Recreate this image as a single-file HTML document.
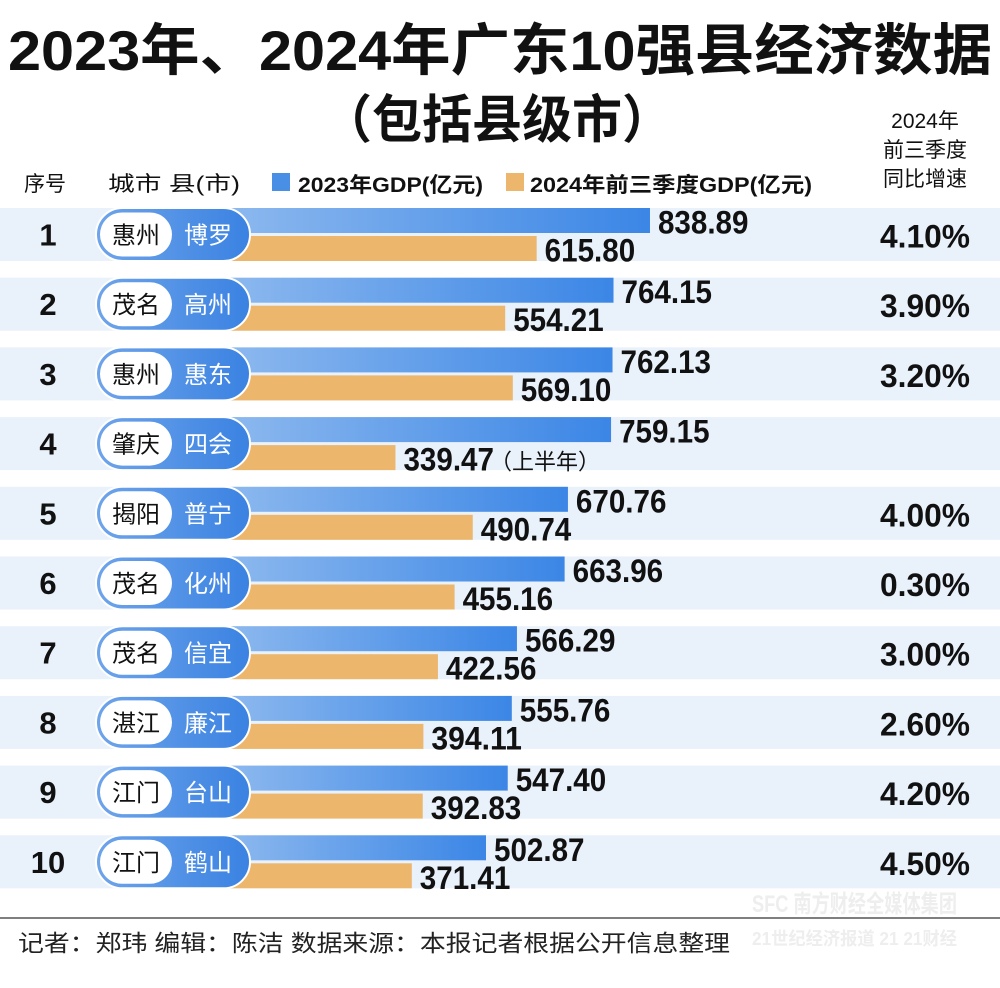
<!DOCTYPE html>
<html><head><meta charset="utf-8"><style>
html,body{margin:0;padding:0;background:#fff;}
svg{display:block;font-family:"Liberation Sans","Noto Sans CJK SC",sans-serif;}
</style></head><body>
<svg id="chart" width="1000" height="988" viewBox="0 0 1000 988">
<defs>
<linearGradient id="gb" x1="0" x2="1" y1="0" y2="0"><stop offset="0" stop-color="#8cb8ee"/><stop offset="1" stop-color="#3b86e6"/></linearGradient>
<linearGradient id="gp" x1="0" x2="1" y1="0" y2="0"><stop offset="0" stop-color="#6ea4ea"/><stop offset="1" stop-color="#3a82e2"/></linearGradient>
</defs>
<text x="8" y="70" font-size="56" font-weight="bold" fill="#111" textLength="984" lengthAdjust="spacingAndGlyphs">2023年、2024年广东10强县经济数据</text>
<text x="322" y="138" font-size="52" font-weight="bold" fill="#111" textLength="350" lengthAdjust="spacingAndGlyphs">（包括县级市）</text>
<g font-size="21" fill="#111" text-anchor="middle">
<text x="925" y="128">2024年</text><text x="925" y="157">前三季度</text><text x="925" y="186">同比增速</text></g>
<text x="45" y="191" font-size="21" text-anchor="middle" fill="#111">序号</text>
<text x="108" y="191" font-size="21" fill="#111" textLength="132" lengthAdjust="spacingAndGlyphs">城市 县(市)</text>
<rect x="272" y="173" width="18" height="18" fill="#4a8fe6"/>
<text x="298" y="192" font-size="21" font-weight="bold" fill="#111" textLength="185" lengthAdjust="spacingAndGlyphs">2023年GDP(亿元)</text>
<rect x="506" y="173" width="18" height="18" fill="#ecb66c"/>
<text x="530" y="192" font-size="21" font-weight="bold" fill="#111" textLength="282" lengthAdjust="spacingAndGlyphs">2024年前三季度GDP(亿元)</text>
<g id="rows"></g>
<line x1="0" y1="918" x2="1000" y2="918" stroke="#555" stroke-width="1.5"/>
<text x="18" y="951" font-size="23" fill="#222" textLength="712" lengthAdjust="spacingAndGlyphs">记者：郑玮  编辑：陈洁  数据来源：本报记者根据公开信息整理</text>
<text x="752" y="912" font-size="24" font-weight="bold" fill="#eeeeee" textLength="205" lengthAdjust="spacingAndGlyphs">SFC 南方财经全媒体集团</text>
<text x="752" y="945" font-size="18" font-weight="bold" fill="#eeeeee" textLength="205" lengthAdjust="spacingAndGlyphs">21世纪经济报道  21 21财经</text>
</svg>
<script>
const ranks=[1,2,3,4,5,6,7,8,9,10];
const cities=["惠州","茂名","惠州","肇庆","揭阳","茂名","茂名","湛江","江门","江门"];
const counties=["博罗","高州","惠东","四会","普宁","化州","信宜","廉江","台山","鹤山"];
const gdp2023=[838.89,764.15,762.13,759.15,670.76,663.96,566.29,555.76,547.40,502.87];
const gdp2024=[615.80,554.21,569.10,339.47,490.74,455.16,422.56,394.11,392.83,371.41];
const notes2024=["","","","（上半年）","","","","","",""];
const growth=["4.10%","3.90%","3.20%","","4.00%","0.30%","3.00%","2.60%","4.20%","4.50%"];
const NS="http://www.w3.org/2000/svg";
const xBlue=v=>240.6+v*0.488;
const xOrange=v=>222+v*0.511;
const rowY=i=>234.5+i*69.7;
const g=document.getElementById('rows');
function mk(tag,attrs,txt){const e=document.createElementNS(NS,tag);for(const k in attrs)e.setAttribute(k,attrs[k]);if(txt!==undefined)e.textContent=txt;g.appendChild(e);return e;}
function numLen(s){let w=0;for(const c of s){w+=(c==='.')?8:(c==='%')?24:16.5;}return w;}
ranks.forEach((r,i)=>{
  const cy=rowY(i);
  let e=mk('rect',{x:0,y:cy-26.5,width:1000,height:53,fill:'#e9f1fb'});
  
  
  e=mk('rect',{x:230,y:cy-26.5,width:xBlue(gdp2023[i])-230,height:25,fill:'url(#gb)'});
  
  
  e=mk('rect',{x:230,y:cy+1.5,width:xOrange(gdp2024[i])-230,height:25,fill:'#ecb66c'});
  
  
  e=mk('rect',{x:96,y:cy-26.5,width:154,height:53,rx:26.5,fill:'url(#gp)',stroke:'#fff','stroke-width':2});
  
  
  e=mk('rect',{x:100,y:cy-22,width:72,height:44,rx:22,fill:'#fff'});
  
  
  e=mk('text',{x:136,y:cy+9,'font-size':24,'text-anchor':'middle',fill:'#111'},cities[i]);
  
  
  e=mk('text',{x:208,y:cy+9,'font-size':24,'text-anchor':'middle',fill:'#fff'},counties[i]);
  
  
  e=mk('text',{x:48,y:cy+11,'font-size':31,'font-weight':'bold','text-anchor':'middle',fill:'#111'},String(r));
  
  
  const s1=gdp2023[i].toFixed(2), s2=gdp2024[i].toFixed(2);
  e=mk('text',{x:xBlue(gdp2023[i])+8,y:cy-1,'font-size':32,'font-weight':'bold',fill:'#111',textLength:numLen(s1),lengthAdjust:'spacingAndGlyphs'},s1);
  
  
  e=mk('text',{x:xOrange(gdp2024[i])+8,y:cy+27,'font-size':32,'font-weight':'bold',fill:'#111',textLength:numLen(s2),lengthAdjust:'spacingAndGlyphs'},s2);
  
  
  if(notes2024[i]){
    e=mk('text',{x:xOrange(gdp2024[i])+8+numLen(s2)-4,y:cy+26,'font-size':22,fill:'#111'},notes2024[i]);
    
    
  }
  if(growth[i]){
    e=mk('text',{x:880,y:cy+13,'font-size':32,'font-weight':'bold',fill:'#111',textLength:90,lengthAdjust:'spacingAndGlyphs'},growth[i]);
    
    
  }
});
</script>
</body></html>
